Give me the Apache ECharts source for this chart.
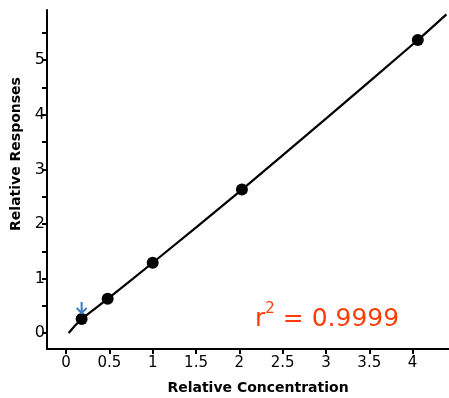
<!DOCTYPE html>
<html>
<head>
<meta charset="utf-8">
<script src="https://cdn.jsdelivr.net/npm/echarts@6/dist/echarts.min.js"></script>
<style>
  html, body { margin: 0; padding: 0; background: #fff; }
  #chart { width: 449px; height: 398px; }
</style>
</head>
<body>
<div id="chart"></div>
<script>
// measured points (relative concentration, relative response)
const pointX = [0.18, 0.48, 1.0, 2.03, 4.06];
const pointY = [0.26, 0.63, 1.29, 2.63, 5.37];

// fitted curve
const fitX = [0.03, 0.1, 0.18, 0.48, 1.0, 2.03, 3.0, 4.06, 4.39];
const fitY = [0.0, 0.13, 0.26, 0.63, 1.29, 2.63, 3.93, 5.37, 5.84];

// arrow marking the lowest point
const arrowAt = [0.18, 0.47];

const xTicks = [0, 0.5, 1, 1.5, 2, 2.5, 3, 3.5, 4];
const yLabels = [0, 1, 2, 3, 4, 5];
const yTicks = [0, 0.5, 1, 1.5, 2, 2.5, 3, 3.5, 4, 4.5, 5, 5.5];

const r2Text = '0.9999';

const font = "'DejaVu Sans', sans-serif";

const myChart = echarts.init(document.getElementById('chart'));

const option = {
  animation: false,
  grid: {
    left: 47,
    top: 10,
    right: 0,
    bottom: 49,
    outerBoundsMode: 'none'
  },
  xAxis: {
    type: 'value',
    min: -0.22,
    max: 4.42,
    splitLine: { show: false },
    axisLine: { show: true, onZero: false, lineStyle: { color: '#000', width: 2 } },
    axisTick: {
      show: true,
      length: 5,
      customValues: xTicks,
      lineStyle: { color: '#000', width: 2 }
    },
    axisLabel: {
      customValues: xTicks,
      margin: 7,
      color: '#000',
      fontSize: 15,
      fontFamily: font
    }
  },
  yAxis: {
    type: 'value',
    min: -0.29,
    max: 5.92,
    splitLine: { show: false },
    axisLine: { show: true, onZero: false, lineStyle: { color: '#000', width: 2 } },
    axisTick: {
      show: true,
      length: 5,
      customValues: yTicks,
      lineStyle: { color: '#000', width: 2 }
    },
    axisLabel: {
      customValues: yLabels,
      margin: 2,
      color: '#000',
      fontSize: 16,
      fontFamily: font
    }
  },
  graphic: [
    {
      type: 'text',
      x: 16,
      y: 154,
      rotation: Math.PI / 2,
      style: {
        text: 'Relative Responses',
        fill: '#000',
        font: 'bold 14px ' + font,
        align: 'center',
        verticalAlign: 'middle'
      }
    },
    {
      type: 'text',
      x: 258,
      y: 388,
      style: {
        text: 'Relative Concentration',
        fill: '#000',
        font: 'bold 14px ' + font,
        align: 'center',
        verticalAlign: 'middle'
      }
    },
    {
      type: 'text',
      left: 255,
      top: 302,
      style: {
        text: '{b|r}{s|2}{b| = ' + r2Text + '}',
        rich: {
          b: { fontSize: 25, fontFamily: font, fill: '#ff3c0a', verticalAlign: 'bottom', lineHeight: 30 },
          s: { fontSize: 15, fontFamily: font, fill: '#ff3c0a', verticalAlign: 'top', lineHeight: 30 }
        }
      }
    }
  ],
  series: [
    {
      name: 'fit',
      type: 'line',
      data: fitX.map((x, i) => [x, fitY[i]]),
      showSymbol: false,
      smooth: 0.3,
      lineStyle: { color: '#000', width: 2.2 },
      z: 2
    },
    {
      name: 'points',
      type: 'scatter',
      data: pointX.map((x, i) => [x, pointY[i]]),
      symbol: 'circle',
      symbolSize: 12,
      itemStyle: { color: '#000', opacity: 1 },
      z: 3
    },
    {
      name: 'arrow',
      type: 'scatter',
      data: [arrowAt],
      symbol: 'path://M5,0 L5,11 M0.5,6 L5,11 L9.5,6',
      symbolSize: [10, 11],
      itemStyle: { color: 'none', borderColor: '#3f7fc0', borderWidth: 2.2, opacity: 1 },
      z: 4
    }
  ]
};

myChart.setOption(option);
</script>
</body>
</html>
